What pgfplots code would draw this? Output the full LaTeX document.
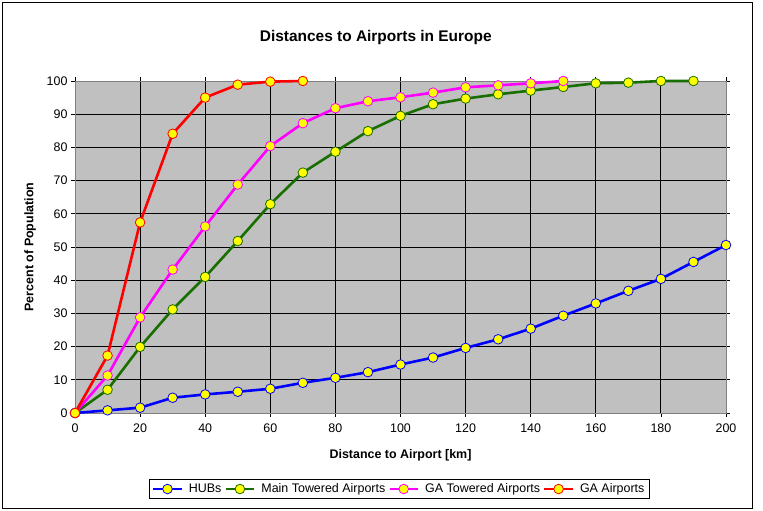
\documentclass[border=0pt]{standalone}
\usepackage{pgfplots}
\pgfplotsset{compat=1.18}
\usepackage{fontspec}
\setmainfont{Liberation Sans}
\definecolor{bggray}{RGB}{192,192,192}
\definecolor{dgreen}{RGB}{25,110,0}
\definecolor{hubblue}{RGB}{0,0,255}
\definecolor{mag}{RGB}{255,0,255}
\definecolor{ared}{RGB}{255,0,0}
\definecolor{myellow}{RGB}{255,255,0}
\begin{document}
\begin{tikzpicture}[x=1bp,y=1bp]
\path[use as bounding box] (0,0) rectangle (763,511);
\draw[black, line width=0.8bp] (2.5,2.5) rectangle (752,508.5);
\begin{axis}[
  at={(75bp,98bp)}, anchor=south west,
  scale only axis, width=651bp, height=332bp,
  xmin=0, xmax=200, ymin=0, ymax=100,
  xtick={0,20,...,200}, ytick={0,10,...,100},
  grid=major, grid style={black, line width=0.9bp},
  axis background/.style={fill=bggray},
  axis line style={gray, line width=0.8bp},
  tick style={black, line width=0.8bp}, tick align=outside, major tick length=4bp,
  ticklabel style={font=\fontsize{12.5}{14}\selectfont},
  xticklabel style={yshift=-3bp},
  /pgf/number format/assume math mode=true,
  title={Distances to Airports in Europe},
  title style={at={(axis description cs:0.462,1.112)}, anchor=center, font=\bfseries\fontsize{15.5}{18}\selectfont},
  xlabel={Distance to Airport [km]},
  xlabel style={at={(axis description cs:0.5,-0.126)}, anchor=center, font=\bfseries\fontsize{12.5}{14}\selectfont},
  ylabel={Percent of Population},
  ylabel style={at={(axis description cs:-0.069,0.5)}, anchor=center, font=\bfseries\fontsize{12.5}{14}\selectfont},
  clip=false,
  legend columns=4,
  legend style={at={(axis description cs:0.498,-0.229)}, anchor=center, draw=black, line width=0.8bp,
    font=\fontsize{12.5}{14}\selectfont, inner xsep=3bp, inner ysep=2.5bp, column sep=4bp,
    /tikz/every even column/.append style={column sep=1bp}},
  legend image code/.code={\draw[mark repeat=2,mark phase=2] plot coordinates {(0cm,0cm)(0.5cm,0cm)(1.0cm,0cm)};},
  every axis plot/.append style={line width=2.6bp, mark=*, mark size=4.8bp, mark options={fill=myellow, line width=0.8bp}},
]
\addplot[hubblue] coordinates {(0,0)(10,0.8)(20,1.6)(30,4.6)(40,5.6)(50,6.4)(60,7.3)(70,9.1)(80,10.6)(90,12.3)(100,14.6)(110,16.7)(120,19.6)(130,22.2)(140,25.4)(150,29.3)(160,33.0)(170,36.8)(180,40.4)(190,45.5)(200,50.6)};
\addlegendentry{HUBs}
\addplot[dgreen] coordinates {(0,0)(10,7.0)(20,19.9)(30,31.2)(40,41.0)(50,51.8)(60,62.9)(70,72.4)(80,78.7)(90,84.9)(100,89.5)(110,93.0)(120,94.7)(130,96.0)(140,97.1)(150,98.2)(160,99.3)(170,99.5)(180,100)(190,100)};
\addlegendentry{Main Towered Airports}
\addplot[mag] coordinates {(0,0)(10,11.3)(20,28.8)(30,43.2)(40,56.2)(50,68.8)(60,80.4)(70,87.3)(80,91.8)(90,93.9)(100,95.1)(110,96.5)(120,98.1)(130,98.7)(140,99.3)(150,100)};
\addlegendentry{GA Towered Airports}
\addplot[ared] coordinates {(0,0)(10,17.3)(20,57.4)(30,84.1)(40,95.0)(50,98.9)(60,99.8)(70,100)};
\addlegendentry{GA Airports}
\end{axis}
\end{tikzpicture}
\end{document}
